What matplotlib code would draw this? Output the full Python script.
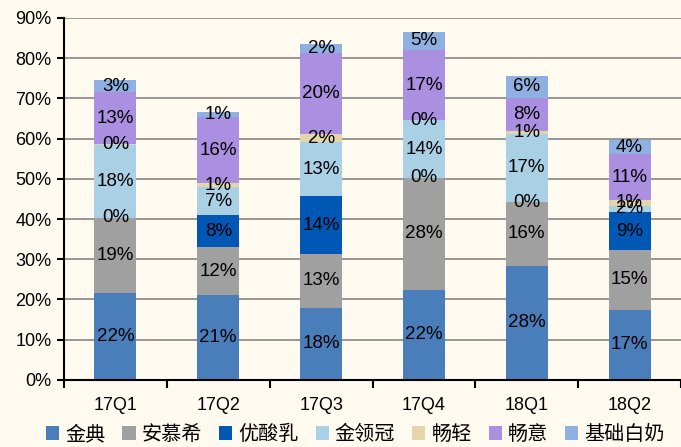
import numpy as np
import matplotlib.pyplot as plt
from matplotlib.ticker import FixedLocator, FuncFormatter

plt.rcParams['font.family'] = ['Liberation Sans', 'Noto Sans CJK SC', 'DejaVu Sans']

# ── data (percent of total) ─────────────────────────────────
quarters = ["17Q1", "17Q2", "17Q3", "17Q4", "18Q1", "18Q2"]
series_names = ["金典", "安慕希", "优酸乳", "金领冠", "畅轻", "畅意", "基础白奶"]

jindian   = [21.6, 21.0, 17.9, 22.4, 28.4, 17.4]
anmuxi    = [18.7, 12.1, 13.4, 27.8, 15.8, 14.9]
yousuanru = [0.0, 7.8, 14.4, 0.0, 0.0, 9.4]
jinlingguan = [18.0, 7.0, 13.4, 14.4, 17.0, 1.6]
changqing = [0.4, 1.0, 2.0, 0.0, 0.6, 1.4]
changyi   = [12.8, 16.4, 20.1, 17.4, 8.3, 11.4]
jichu     = [3.0, 1.4, 2.4, 4.6, 5.5, 3.6]

colors = ["#4a7ebb", "#a0a0a0", "#0058b4", "#a9d0e4", "#e4d5aa", "#ab8fe0", "#8eb1e1"]

series = [jindian, anmuxi, yousuanru, jinlingguan, changqing, changyi, jichu]

# ── plot ────────────────────────────────────────────────────
bg = "#fffaef"
fig = plt.figure(figsize=(6.81, 4.47), dpi=100, facecolor=bg)
ax = fig.add_axes([64 / 681, 0.150, 1 - 64 / 681, 0.810])
ax.set_facecolor(bg)

x = np.arange(len(quarters))
bottom = np.zeros(len(quarters))
for name, vals, c in zip(series_names, series, colors):
    vals = np.array(vals)
    ax.bar(x, vals, width=0.41, bottom=bottom, color=c, label=name, zorder=2)
    for xi, b, v in zip(x, bottom, vals):
        ax.text(xi, b + v / 2, f"{round(v)}%", ha="center", va="center",
                fontsize=13.5, color="black", zorder=5)
    bottom += vals

ax.set_xlim(-0.5, 5.45)
ax.set_ylim(0, 90)
ax.yaxis.set_major_locator(FixedLocator(np.arange(0, 91, 10)))
ax.yaxis.set_major_formatter(FuncFormatter(lambda v, _: f"{v:.0f}%"))
ax.yaxis.grid(True, color="#868686", linewidth=1.2, zorder=0)
ax.set_axisbelow(True)

ax.set_xticks(x)
ax.set_xticklabels(quarters)
ax.set_xticks(np.arange(-0.5, 6, 1), minor=True)
ax.tick_params(axis="x", which="major", length=0, labelsize=13, pad=12)
ax.tick_params(axis="x", which="minor", length=6, width=1.5, direction="out")
ax.tick_params(axis="y", length=5, width=1.5, labelsize=13, pad=4)

for s in ["top", "right"]:
    ax.spines[s].set_visible(False)
for s in ["left", "bottom"]:
    ax.spines[s].set_linewidth(1.5)
    ax.spines[s].set_color("black")

fig.legend(loc="center", bbox_to_anchor=(0.522, 0.028), ncol=7, frameon=False,
           handlelength=0.65, handleheight=0.65, handletextpad=0.3, columnspacing=0.85,
           borderpad=0, prop={"family": ["Noto Sans CJK SC"], "size": 14.5})

plt.savefig("out.png", dpi=100, facecolor=bg)
